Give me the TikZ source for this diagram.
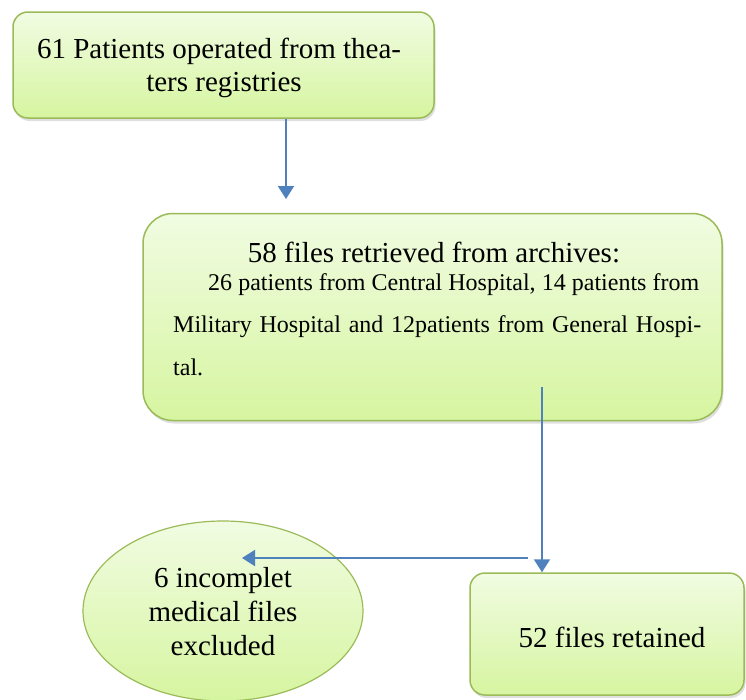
\documentclass[tikz,border=0pt]{standalone}
\usepackage{fontspec}
\setmainfont{Liberation Serif}
\usetikzlibrary{arrows.meta,shadows,shapes.geometric}
\definecolor{bord}{HTML}{9BBB59}
\definecolor{ftop}{HTML}{F1FCE2}
\definecolor{fbot}{HTML}{D6F5A0}
\definecolor{arrblue}{HTML}{4F81BD}
\tikzset{
  greenshape/.style={draw=bord, line width=1.5pt, top color=ftop, bottom color=fbot, inner sep=0pt},
  shad/.style={drop shadow={opacity=0.25, shadow xshift=1.5pt, shadow yshift=-3pt}},
  boxone/.style={greenshape, shad, rectangle, rounded corners=15pt, minimum width=421pt, minimum height=106pt},
  boxtwo/.style={greenshape, shad, rectangle, rounded corners=30pt, minimum width=579pt, minimum height=207pt},
  boxthree/.style={greenshape, shad, rectangle, rounded corners=15pt, minimum width=274pt, minimum height=122pt},
  ellshape/.style={greenshape, ellipse, line width=1.2pt, minimum width=280pt, minimum height=180pt},
  bigtxt/.style={font=\fontsize{29}{32}\selectfont, anchor=base, inner sep=0pt},
  smalltxt/.style={font=\fontsize{24}{28}\selectfont, anchor=base west, inner sep=0pt},
  arr/.style={draw=arrblue, line width=2pt, -{Triangle[width=16pt,length=13pt]}},
}
\begin{document}
\begin{tikzpicture}[x=1pt,y=-1pt]
\useasboundingbox (0,0) rectangle (746,699);
% shapes
\node[boxone] (b1) at (223.5,65) {};
\node[boxtwo] (b2) at (432.5,317) {};
\node[ellshape] (ex) at (223,611) {};
\node[boxthree] (b3) at (607,634) {};
% texts
\node[bigtxt] (t1a) at (219,58) {61 Patients operated from thea-};
\node[bigtxt] (t1b) at (224,91) {ters registries};
\node[bigtxt] (t2a) at (434,262) {58 files retrieved from archives:};
\node[smalltxt] (t2b) at (208,290) {\makebox[491pt][s]{26 patients from Central Hospital, 14 patients from}};
\node[smalltxt] (t2c) at (173,332) {\makebox[528pt][s]{Military Hospital and 12patients from General Hospi-}};
\node[smalltxt] (t2d) at (173,375) {tal.};
\node[bigtxt] (e1) at (223,587) {6 incomplet};
\node[bigtxt] (e2) at (223,621) {medical files};
\node[bigtxt] (e3) at (223,655) {excluded};
\node[bigtxt] (t3) at (612,647) {52 files retained};
% connectors
\coordinate (a1end) at (286,199);
\coordinate (a2start) at (542,387);
\coordinate (a3start) at (528,558);
\coordinate (a3end) at (242,558);
\draw[arr] (b1.south -| a1end) -- (a1end);
\draw[arr] (a2start) -- (b3.north -| a2start);
\draw[arr] (a3start) -- (a3end);
\end{tikzpicture}
\end{document}
